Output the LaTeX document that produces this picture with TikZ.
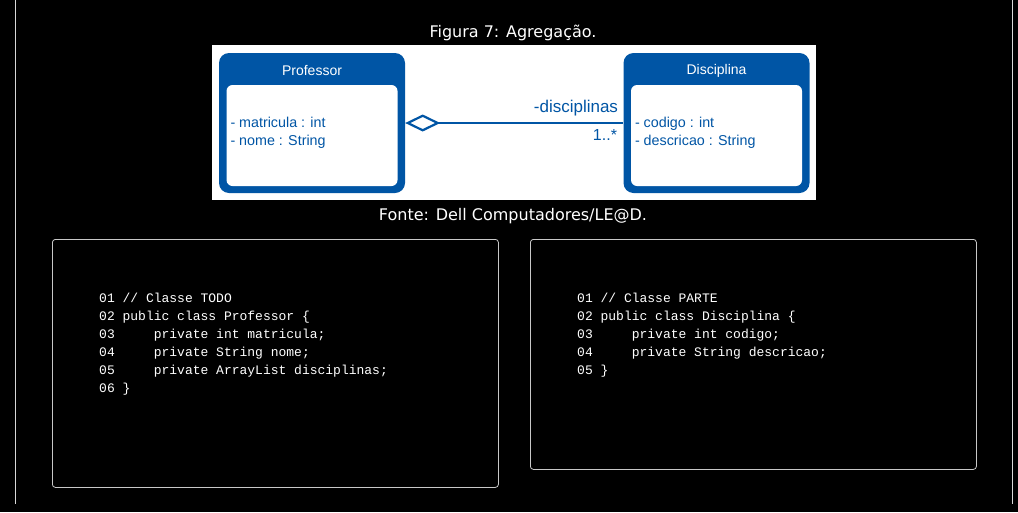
\documentclass[tikz,border=0pt]{standalone}
\usepackage{fontspec}
\setmainfont{DejaVu Sans}
\newfontfamily\umlfont{Liberation Sans}
\newfontfamily\codefont{Liberation Mono}
\usetikzlibrary{arrows.meta,
                positioning,
                calc}
\definecolor{umlblue}{HTML}{0055A5}
\definecolor{framegray}{HTML}{C8C8C8}
\definecolor{sidegray}{HTML}{D8D8D8}

\tikzset{
    caption/.style={text=white, font=\fontsize{16}{19}\selectfont, inner sep=0pt},
    umlclass/.style={fill=umlblue, rounded corners=10pt, minimum width=186pt,
                     minimum height=140pt, inner sep=0pt},
    umlbody/.style={fill=white, rounded corners=6pt, minimum width=171pt,
                    minimum height=101pt, inner sep=0pt},
    umlhead/.style={text=white, font=\umlfont\fontsize{14}{16}\selectfont, inner sep=0pt},
    umlattr/.style={text=umlblue, align=left, inner sep=0pt,
                    font=\umlfont\fontsize{14.3}{18}\selectfont},
    codeframe/.style={draw=framegray, line width=0.8pt, rounded corners=3pt, inner sep=0pt},
    codetext/.style={text=white, align=left, inner sep=0pt,
                     font=\codefont\fontsize{13}{18}\selectfont}
}

\begin{document}
\begin{tikzpicture}[x=1pt,y=-1pt]
    \fill[black] (0,0) rectangle (1018,512);
    \useasboundingbox (0,0) rectangle (1018,512);

    % side rules
    \draw[sidegray, line width=1pt] (15,0) -- (15,504);
    \draw[sidegray, line width=1pt] (1012,0) -- (1012,504);

    % figure
    \node[caption] (title) at (513,33) {Figura 7: Agregação.};
    \node[fill=white, minimum width=604pt, minimum height=155pt, inner sep=0pt] (panel) at (514,122.5) {};
    \node[caption] (source) at (513,216) {Fonte: Dell Computadores/LE@D.};

    \node[umlclass] (prof) at (312,123) {};
    \node[umlbody, anchor=north] (profbody) at ([yshift=-32pt]prof.north) {};
    \node[umlhead] at ([yshift=-18pt]prof.north) {Professor};
    \node[umlattr, anchor=west] at ([xshift=4pt,yshift=2.5pt]profbody.west)
        {- matricula : int\\- nome : String};

    \node[umlclass] (disc) at (716.5,123) {};
    \node[umlbody, anchor=north] (discbody) at ([yshift=-32pt]disc.north) {};
    \node[umlhead] at ([yshift=-18pt]disc.north) {Disciplina};
    \node[umlattr, anchor=west] at ([xshift=4pt,yshift=2.5pt]discbody.west)
        {- codigo : int\\- descricao : String};

    \draw[umlblue, line width=2.6pt,
          {Diamond[open, length=35pt, width=17pt, line width=2.2pt]}-]
        (prof.east) -- (disc.west)
        node[pos=1, anchor=south east, inner sep=0pt, xshift=-4pt, yshift=6pt,
             text=umlblue, font=\umlfont\fontsize{17}{20}\selectfont] {-disciplinas}
        node[pos=1, anchor=north east, inner sep=0pt, xshift=-5pt, yshift=-5pt,
             text=umlblue, font=\umlfont\fontsize{16}{18}\selectfont] {1..*};

    % code listings
    \node[codeframe, minimum width=446pt, minimum height=248pt, anchor=north west] (todobox) at (52,239) {};
    \node[codetext, anchor=north west] at ([xshift=47pt,yshift=-54pt]todobox.north west)
        {01 // Classe TODO\\
         02 public class Professor \{\\
         03 \phantom{0000}private int matricula;\\
         04 \phantom{0000}private String nome;\\
         05 \phantom{0000}private ArrayList disciplinas;\\
         06 \}};

    \node[codeframe, minimum width=446pt, minimum height=230pt, anchor=north west] (partebox) at (530,239) {};
    \node[codetext, anchor=north west] at ([xshift=47pt,yshift=-54pt]partebox.north west)
        {01 // Classe PARTE\\
         02 public class Disciplina \{\\
         03 \phantom{0000}private int codigo;\\
         04 \phantom{0000}private String descricao;\\
         05 \}};
\end{tikzpicture}
\end{document}
